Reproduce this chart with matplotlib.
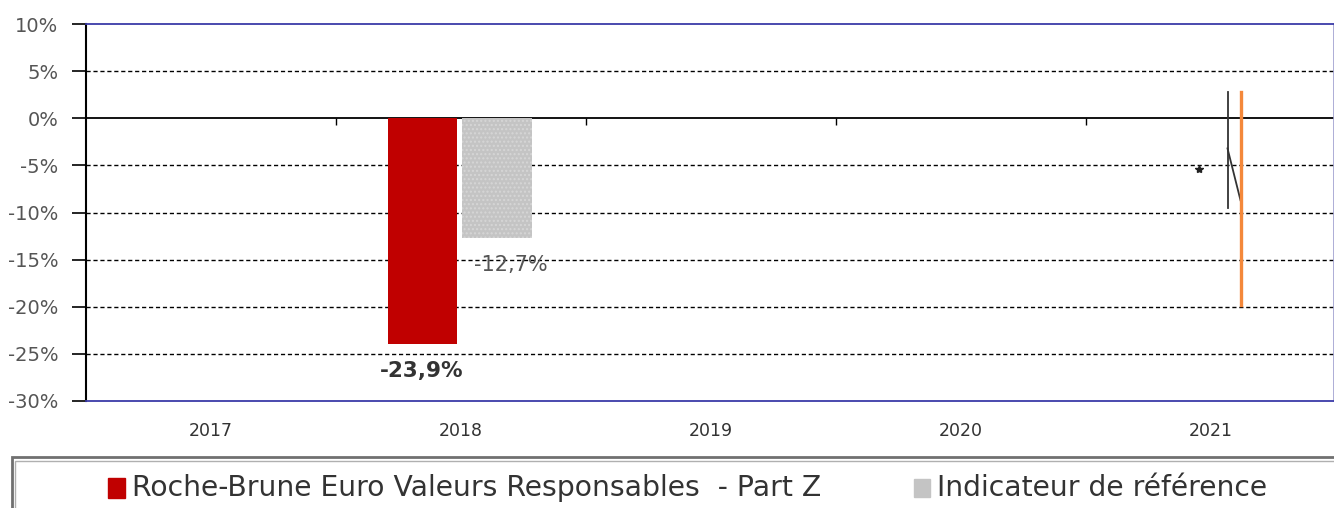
import matplotlib
matplotlib.use("Agg")
import matplotlib.pyplot as plt
import matplotlib.markers as mmarkers
from matplotlib.patches import Rectangle

years = ["2017", "2018", "2019", "2020", "2021"]
fund = [None, -23.9, None, None, None]
benchmark = [None, -12.7, None, None, None]
fund_labels = [None, "-23,9%", None, None, None]
bench_labels = [None, "-12,7%", None, None, None]
yticks = [10, 5, 0, -5, -10, -15, -20, -25, -30]

# stray marks drawn in the 2021 slot of the original
stray_star = (3.95, -5.4)
stray_black_x = [4.066, 4.066]
stray_black_y = [2.8, -9.5]
stray_diag_x = [4.066, 4.118]
stray_diag_y = [-3.2, -8.7]
stray_orange_x = [4.118, 4.118]
stray_orange_y = [2.8, -19.8]

fund_name = "Roche-Brune Euro Valeurs Responsables  - Part Z"
bench_name = "Indicateur de référence"

plt.rcParams['font.family'] = ['DejaVu Sans']

fig = plt.figure(figsize=(13.34, 5.08), dpi=100)
ax = fig.add_axes([86 / 1334, 107 / 508, 1248 / 1334, 377 / 508])

w = 0.276
for i, (f, b) in enumerate(zip(fund, benchmark)):
    if f is not None:
        ax.bar(i - 0.156, f, width=w, color="#C00000", zorder=3)
        ax.text(i - 0.156, f - 2.9, fund_labels[i], ha="center", va="center",
                fontsize=15.5, fontweight="bold", color="#333333", zorder=4)
    if b is not None:
        ax.bar(i + 0.144, b, width=w, color="#C4C4C4", hatch="....",
               edgecolor="#D6D6D6", linewidth=0, zorder=3)
        ax.text(i + 0.2, b - 2.9, bench_labels[i], ha="center", va="center",
                fontsize=15, color="#555555", zorder=4)

ax.plot(*stray_star, marker="*", color="#222222", markersize=6, zorder=4)
ax.plot(stray_black_x, stray_black_y, color="#333333", lw=1.3, zorder=4)
ax.plot(stray_diag_x, stray_diag_y, color="#333333", lw=1.3, zorder=4)
ax.plot(stray_orange_x, stray_orange_y, color="#F4883A", lw=2.4, zorder=4)

ax.set_xlim(-0.5, 4.492)
ax.set_ylim(-30, 10)
ax.set_yticks(yticks)
ax.set_yticklabels([f"{t}%" for t in yticks], fontsize=14, color="#555555")
for t in yticks:
    if t in (10, -30):
        continue
    if t == 0:
        ax.axhline(0, color="black", lw=1.3, zorder=2)
    else:
        ax.axhline(t, color="black", lw=1, ls=(0, (3, 2)), zorder=1)

ax.set_xticks(range(len(years)))
ax.set_xticklabels(years, fontsize=12.5, color="#333333")
ax.tick_params(axis="x", length=0, pad=15)
ax.tick_params(axis="y", length=10, width=1.2, color="black", pad=10)

# category separators on the zero line
ax.plot([i + 0.5 for i in range(len(years) - 1)], [0] * (len(years) - 1),
        ls="none", marker=mmarkers.TICKDOWN, markersize=5, color="black", zorder=3)

ax.spines["left"].set_color("black")
ax.spines["left"].set_linewidth(1.5)
ax.spines["top"].set_color("#3A3AA8")
ax.spines["bottom"].set_color("#3A3AA8")
ax.spines["top"].set_linewidth(1.3)
ax.spines["bottom"].set_linewidth(1.3)
ax.spines["right"].set_color("#A0A0D0")
ax.spines["right"].set_linewidth(1.2)

# legend box
fig.patches.append(Rectangle((12 / 1334, -0.05), 1.0, (508 - 457) / 508 + 0.05,
                             transform=fig.transFigure, fill=False,
                             edgecolor="#707070", lw=2))
fig.patches.append(Rectangle((12 / 1334 + 0.002, -0.05), 1.0, (508 - 461) / 508 + 0.05,
                             transform=fig.transFigure, fill=False,
                             edgecolor="#B0B0B0", lw=1))
fig.patches.append(Rectangle((108 / 1334, (508 - 498) / 508), 17 / 1334, 20 / 508,
                             transform=fig.transFigure, color="#C00000"))
fig.text(132 / 1334, (508 - 488) / 508, fund_name, fontsize=20.3, color="#333333",
         ha="left", va="center")
fig.patches.append(Rectangle((914 / 1334, (508 - 497) / 508), 16 / 1334, 18 / 508,
                             transform=fig.transFigure, color="#C4C4C4"))
fig.text(937 / 1334, (508 - 488) / 508, bench_name, fontsize=20.3, color="#333333",
         ha="left", va="center")

fig.savefig("out.png", dpi=100)
